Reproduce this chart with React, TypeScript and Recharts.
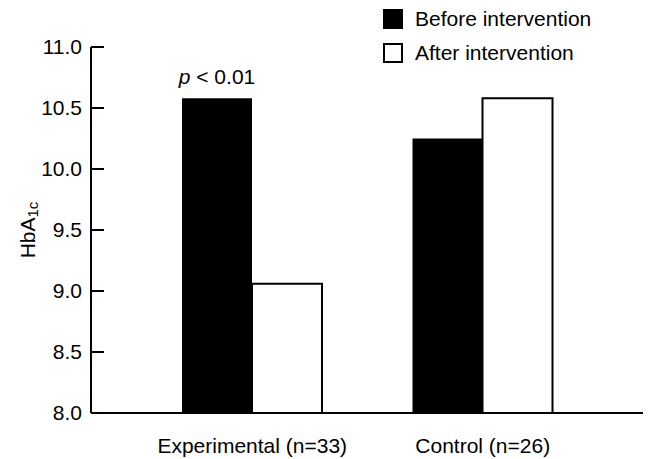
import { BarChart, Bar, XAxis, YAxis, Legend, LabelList } from "recharts";

const groups = ["Experimental (n=33)", "Control (n=26)"];
const beforeValues = [10.58, 10.25];
const afterValues = [9.06, 10.58];
const notes = ["p < 0.01", ""];
const yTicks = [8, 8.5, 9, 9.5, 10, 10.5, 11];
const seriesOrder = ["before", "after"];

const data = groups.map((group, i) => ({
  group,
  before: beforeValues[i],
  after: afterValues[i],
  note: notes[i],
}));

const font = "'Liberation Sans', Arial, sans-serif";

function NoteLabel(props: any) {
  const { x, y, width, value } = props;
  if (!value) return null;
  const [first, ...rest] = String(value).split(" ");
  return (
    <text
      x={x + width / 2}
      y={y - 14}
      textAnchor="middle"
      fontSize={21}
      fontFamily={font}
      fill="#000"
    >
      <tspan fontStyle="italic">{first}</tspan>
      <tspan>{" " + rest.join(" ")}</tspan>
    </text>
  );
}

function YLabel(props: any) {
  const { viewBox } = props;
  const cx = viewBox.x + 27;
  const cy = viewBox.y + viewBox.height / 2;
  return (
    <text
      x={cx}
      y={cy}
      transform={`rotate(-90, ${cx}, ${cy})`}
      textAnchor="middle"
      dominantBaseline="central"
      fontSize={21}
      fontFamily={font}
      fill="#000"
    >
      HbA
      <tspan fontSize={15} dy={5}>
        1c
      </tspan>
    </text>
  );
}

function LegendBox({ payload }: any) {
  const items = [...(payload || [])].sort(
    (a: any, b: any) =>
      seriesOrder.indexOf(a.dataKey) - seriesOrder.indexOf(b.dataKey)
  );
  return (
    <div style={{ fontFamily: font, fontSize: 21, color: "#000" }}>
      {items.map((item: any) => {
        const filled = item.dataKey === "before";
        return (
          <div
            key={item.value}
            style={{ display: "flex", alignItems: "center", height: 34 }}
          >
            <span
              style={{
                display: "inline-block",
                width: filled ? 20 : 16,
                height: filled ? 20 : 16,
                background: filled ? "#000" : "#fff",
                border: filled ? "none" : "2px solid #000",
                marginRight: 12,
              }}
            />
            <span>{item.value}</span>
          </div>
        );
      })}
    </div>
  );
}

export default function App() {
  return (
    <div style={{ position: "absolute", left: 0, top: 0, background: "#fff" }}>
      <BarChart
        width={650}
        height={459}
        data={data}
        margin={{ top: 47, right: 7, left: 0, bottom: 0 }}
        barCategoryGap={45}
        barGap={0}
      >
        <XAxis
          dataKey="group"
          height={46}
          padding={{ left: 46, right: 45 }}
          tickLine={false}
          tickSize={0}
          tickMargin={25}
          axisLine={{ stroke: "#000", strokeWidth: 2 }}
          tick={{ fill: "#000", fontSize: 21, fontFamily: font }}
        />
        <YAxis
          domain={[8, 11]}
          ticks={yTicks}
          width={91}
          interval={0}
          tickSize={-13}
          tickMargin={22}
          tickFormatter={(v: number) => v.toFixed(1)}
          axisLine={{ stroke: "#000", strokeWidth: 2 }}
          tickLine={{ stroke: "#000", strokeWidth: 2 }}
          tick={{ fill: "#000", fontSize: 21, fontFamily: font }}
          label={<YLabel />}
        />
        <Legend
          verticalAlign="top"
          align="right"
          content={<LegendBox />}
          wrapperStyle={{
            position: "absolute",
            left: 383,
            top: 2,
            width: 260,
            height: 0,
            overflow: "visible",
          }}
        />
        <Bar
          dataKey="before"
          name="Before intervention"
          fill="#000"
          isAnimationActive={false}
        >
          <LabelList dataKey="note" content={<NoteLabel />} />
        </Bar>
        <Bar
          dataKey="after"
          name="After intervention"
          fill="#fff"
          stroke="#000"
          strokeWidth={2}
          isAnimationActive={false}
        />
      </BarChart>
    </div>
  );
}
